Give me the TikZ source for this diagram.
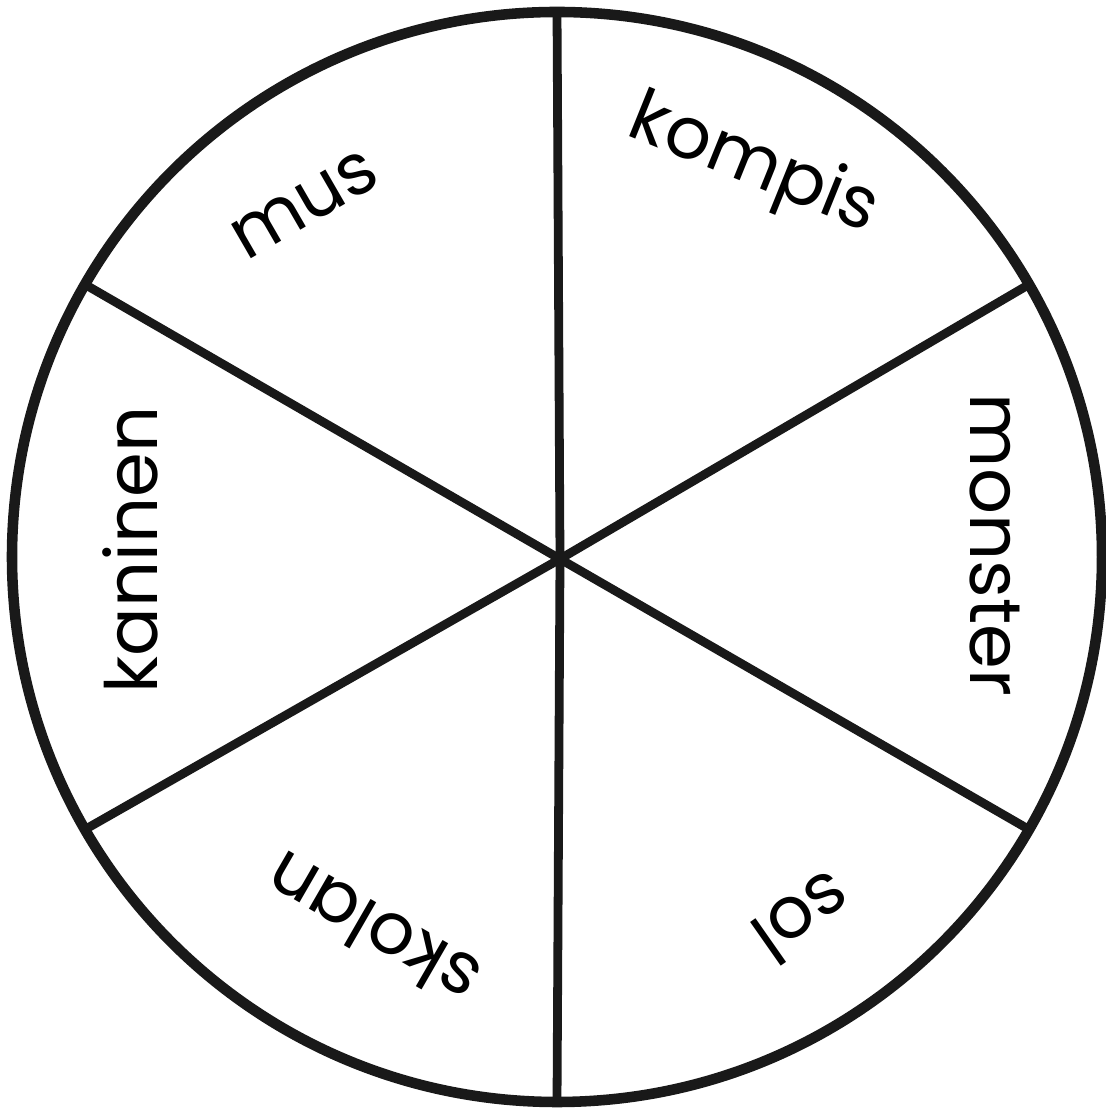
\documentclass[tikz,border=0pt]{standalone}
\usepackage{fontspec}
\setmainfont{Poppins}
\usetikzlibrary{calc}
\begin{document}
\begin{tikzpicture}[x=0.01cm,y=0.01cm,
  rim/.style={line width=3pt,draw=black!90},
  spoke/.style={line width=2.5pt,draw=black!90},
  word/.style={inner sep=0pt,font=\fontsize{20.5}{24}\selectfont,text=black}]
\useasboundingbox (0,0) rectangle (1105,1110);
\fill[white] (0,0) rectangle (1105,1110);
\coordinate (O) at (557,553);
\coordinate (C) at (560,551);
\coordinate (T) at ($(O)+(90:545)$);
\coordinate (B) at ($(O)+(-90:545)$);
\coordinate (UL) at ($(O)+(150:545)$);
\coordinate (UR) at ($(O)+(30:545)$);
\coordinate (LL) at ($(O)+(210:545)$);
\coordinate (LR) at ($(O)+(-30:545)$);
\draw[spoke] (T) -- (C) -- (B);
\draw[spoke] (UL) -- (C) -- (LR);
\draw[spoke] (UR) -- (C) -- (LL);
\draw[rim] (O) circle[radius=545];
\node[word,rotate=30] (mus) at (305,905) {mus};
\node[word,rotate=-22] (kompis) at (753,943) {kompis};
\node[word,rotate=-90] (monster) at (995,565) {monster};
\node[word,rotate=-145] (sol) at (803,192) {sol};
\node[word,rotate=150] (skolan) at (372,180) {skolan};
\node[word,rotate=90] (kaninen) at (130,560) {kaninen};
\end{tikzpicture}
\end{document}
